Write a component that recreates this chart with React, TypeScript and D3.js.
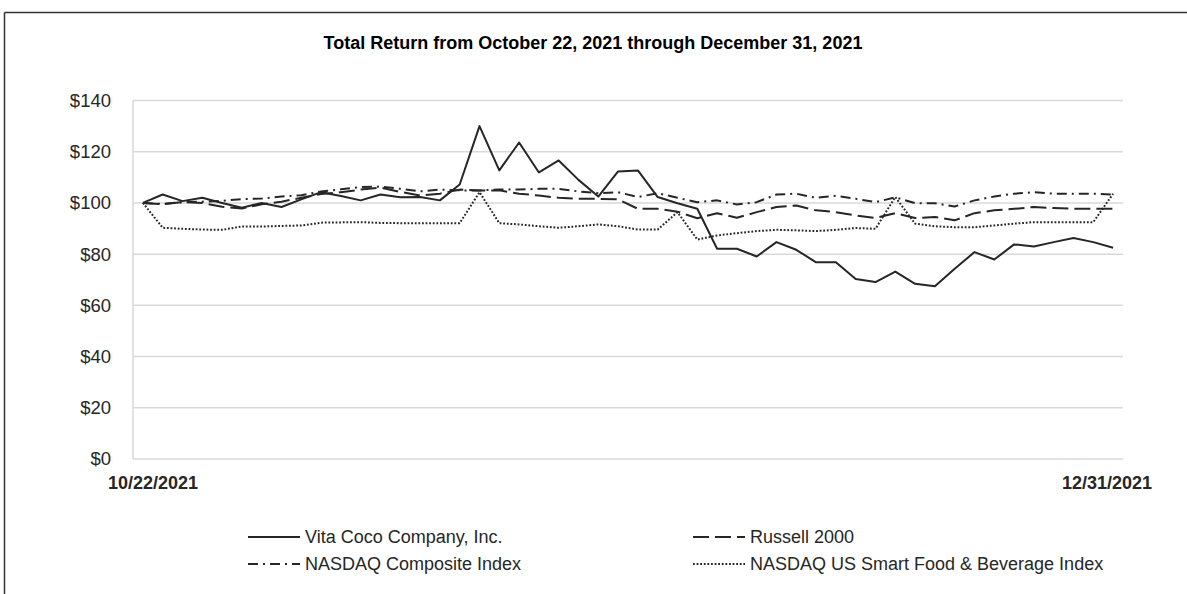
import React from 'react';
import * as d3 from 'd3';

// Values indexed to $100 on 10/22/2021, one per trading day
const vitaCoco = [100, 103.3, 100.7, 102, 100, 98.1, 100, 98.4, 101.4, 104.2, 102.7, 101, 103.3, 102.2, 102.3, 101, 107.2, 130, 112.7, 123.6, 111.9, 116.6, 109, 102.5, 112.3, 112.7, 102.3, 99.9, 97.7, 82.1, 82.1, 79.1, 84.7, 81.7, 76.8, 76.8, 70.3, 69.1, 73.2, 68.4, 67.5, 74.3, 80.8, 77.9, 83.8, 83, 84.7, 86.3, 84.7, 82.5];
const russell2000 = [100, 99.5, 100.3, 100, 98.5, 97.8, 99.5, 100.5, 102, 103.5, 104.2, 105.2, 106, 104.3, 102.9, 103.6, 105.2, 104.9, 104.9, 103.6, 102.9, 102, 101.6, 101.6, 101.4, 97.7, 97.7, 96.6, 94, 96, 94.2, 96.4, 98.4, 99, 97.1, 96.4, 95.1, 94.1, 96, 94.1, 94.5, 93.2, 96, 97.1, 97.7, 98.4, 98, 97.7, 97.7, 97.7];
const nasdaqComposite = [100, 99.6, 100.3, 100.5, 100.8, 101.5, 101.7, 102.5, 103, 104.5, 105.3, 106.2, 106.4, 105.5, 104.5, 105.2, 104.9, 104.9, 105.2, 105.2, 105.5, 105.5, 104.5, 103.8, 104.2, 102.3, 103.8, 102, 100.3, 101, 99.4, 100.3, 103.3, 103.6, 102, 102.8, 101.6, 100.3, 102.2, 99.9, 99.9, 98.6, 101, 102.5, 103.6, 104.2, 103.6, 103.6, 103.6, 103.2];
const foodBeverage = [100, 90.3, 89.9, 89.6, 89.5, 90.8, 90.8, 91, 91.2, 92.3, 92.4, 92.5, 92.2, 92.1, 92.1, 92.1, 92.1, 104.2, 92.1, 91.6, 90.9, 90.3, 90.9, 91.6, 90.9, 89.6, 89.6, 96.4, 85.7, 87.3, 88.2, 89, 89.5, 89.3, 89, 89.5, 90.2, 89.9, 102.3, 91.9, 90.9, 90.5, 90.5, 91.2, 91.9, 92.5, 92.5, 92.5, 92.5, 103.6];

const yTicks = [0, 20, 40, 60, 80, 100, 120, 140];
const firstDate = '10/22/2021';
const lastDate = '12/31/2021';
const title = 'Total Return from October 22, 2021 through December 31, 2021';

const seriesNames = ['Vita Coco Company, Inc.', 'Russell 2000', 'NASDAQ Composite Index', 'NASDAQ US Smart Food & Beverage Index'];
const seriesValues = [vitaCoco, russell2000, nasdaqComposite, foodBeverage];
const seriesDash = ['none', '16,6', '10,5,2,5', '1.8,1.8'];

const W = 1187;
const H = 594;
const font = 'Liberation Sans, Arial, sans-serif';
const ink = '#262626';

export default function App() {
  const x = d3.scalePoint<number>()
    .domain(d3.range(vitaCoco.length))
    .range([133, 1123])
    .padding(0.5);
  const y = d3.scaleLinear().domain([0, 140]).range([459, 100.5]);

  const line = d3.line<number>()
    .x((_, i) => x(i) as number)
    .y(d => y(d));

  // legend layout: two columns, two rows
  const legendPos = [
    { lx: 248, ly: 537 },
    { lx: 693, ly: 537 },
    { lx: 248, ly: 564 },
    { lx: 693, ly: 564 },
  ];

  return (
    <div style={{ position: 'fixed', left: 0, top: 0 }}>
      <svg width={W} height={H} style={{ display: 'block', background: '#fff' }} fontFamily={font}>
        {/* frame */}
        <line x1={4.5} y1={12.5} x2={W} y2={12.5} stroke="#333" strokeWidth={1.5} />
        <line x1={4.5} y1={12.5} x2={4.5} y2={H} stroke="#333" strokeWidth={1.5} />

        <text x={593} y={49} textAnchor="middle" fontSize={18} fontWeight="bold" fill="#000">{title}</text>

        {/* grid */}
        {yTicks.map(t => (
          <g key={t}>
            <line x1={133} x2={1123} y1={y(t)} y2={y(t)} stroke="#d9d9d9" strokeWidth={1.5} />
            <text x={111} y={y(t)} dy="0.35em" textAnchor="end" fontSize={18.5} fill={ink}>${t}</text>
          </g>
        ))}
        <line x1={133} x2={133} y1={y(140)} y2={y(0)} stroke="#d9d9d9" strokeWidth={1.5} />

        <text x={(x(0) as number) - 35} y={489} fontSize={18} fontWeight="bold" fill={ink}>{firstDate}</text>
        <text x={(x(vitaCoco.length - 1) as number) + 39} y={489} textAnchor="end" fontSize={18} fontWeight="bold" fill={ink}>{lastDate}</text>

        {/* series, drawn back to front */}
        {[3, 2, 1, 0].map(k => (
          <path key={k} d={line(seriesValues[k]) || ''} fill="none" stroke={ink} strokeWidth={2}
            strokeDasharray={seriesDash[k]} strokeLinejoin="round" />
        ))}

        {/* legend */}
        {seriesNames.map((name, k) => (
          <g key={name}>
            <line x1={legendPos[k].lx} x2={legendPos[k].lx + 52} y1={legendPos[k].ly} y2={legendPos[k].ly}
              stroke={ink} strokeWidth={2} strokeDasharray={seriesDash[k]} />
            <text x={legendPos[k].lx + 57} y={legendPos[k].ly} dy="0.35em" fontSize={18} fill={ink}>{name}</text>
          </g>
        ))}
      </svg>
    </div>
  );
}
